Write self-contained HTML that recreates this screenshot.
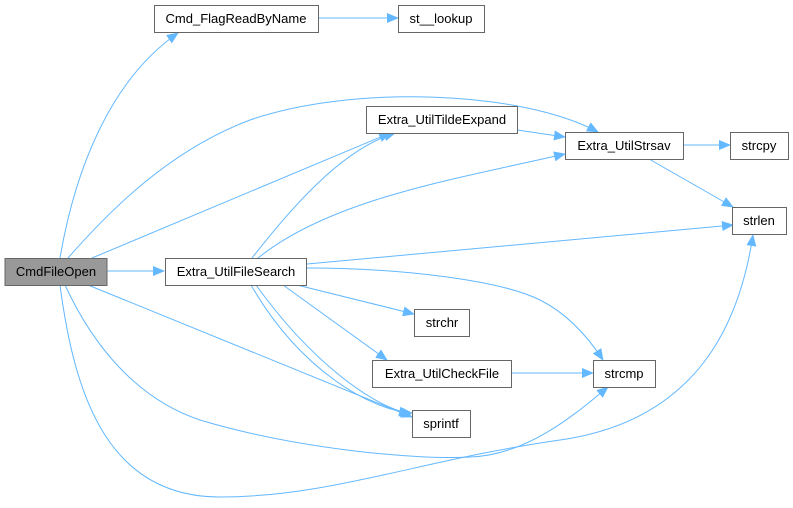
<!DOCTYPE html>
<html><head><meta charset="utf-8"><style>
body{margin:0;background:#fff;width:793px;height:508px;overflow:hidden}
svg{display:block}
text{font-family:"Liberation Sans",Arial,sans-serif;font-size:13px;fill:#000}
.n{fill:#fff;stroke:#666;stroke-width:1}
.e{fill:none;stroke:#63b8ff;stroke-width:1}
</style></head><body>
<svg width="793" height="508" viewBox="0 0 793 508">
<defs><marker id="a" markerWidth="12" markerHeight="10" refX="11" refY="5" orient="auto" markerUnits="userSpaceOnUse"><path d="M0,0 L12,5 L0,10 z" fill="#63b8ff"/></marker></defs>
<g class="e" marker-end="url(#a)">
<path d="M60,258 C75,170 110,80 178,33"/>
<path d="M68,258 C110,210 170,150 250,120 C350,85 520,90 598,132"/>
<path d="M92,258 L390,133"/>
<path d="M107,271 L164,271"/>
<path d="M88,285 L412,417"/>
<path d="M65,285 C95,350 140,400 200,420 C300,450 420,460 470,457 C530,455 580,410 608,387"/>
<path d="M60,285 C75,400 110,497 220,497 C330,497 420,460 560,440 C700,420 740,320 753,235"/>
<path d="M318,18 L398,18"/>
<path d="M517,130 L565,137"/>
<path d="M683,145 L730,145"/>
<path d="M649,159 L733,207"/>
<path d="M252,258 C290,210 340,150 395,133"/>
<path d="M258,258 C330,200 450,180 565,154"/>
<path d="M307,264 L733,225"/>
<path d="M307,268 C400,268 500,280 540,300 C570,315 590,340 603,360"/>
<path d="M297,285 L414,314"/>
<path d="M283,285 L387,360"/>
<path d="M251,285 C300,370 370,410 412,413"/>
<path d="M256,285 C310,360 370,405 410,414"/>
<path d="M511,373 L593,373"/>
</g>
<rect x="5" y="258.5" width="102" height="27" fill="#999" stroke="#666"/>
<text x="56" y="276" text-anchor="middle">CmdFileOpen</text>
<rect class="n" x="154.5" y="5.5" width="164" height="27"/><text x="236" y="23" text-anchor="middle">Cmd_FlagReadByName</text>
<rect class="n" x="398.5" y="5.5" width="86" height="27"/><text x="441" y="23" text-anchor="middle">st__lookup</text>
<rect class="n" x="366.5" y="106.5" width="151" height="27"/><text x="442" y="124" text-anchor="middle">Extra_UtilTildeExpand</text>
<rect class="n" x="565.5" y="132.5" width="118" height="27"/><text x="624" y="150" text-anchor="middle">Extra_UtilStrsav</text>
<rect class="n" x="730.5" y="132.5" width="58" height="27"/><text x="759" y="150" text-anchor="middle">strcpy</text>
<rect class="n" x="732.5" y="207.5" width="54" height="27"/><text x="759" y="225" text-anchor="middle">strlen</text>
<rect class="n" x="165.5" y="258.5" width="141" height="27"/><text x="236" y="276" text-anchor="middle">Extra_UtilFileSearch</text>
<rect class="n" x="414.5" y="309.5" width="55" height="27"/><text x="442" y="327" text-anchor="middle">strchr</text>
<rect class="n" x="372.5" y="360.5" width="139" height="27"/><text x="442" y="378" text-anchor="middle">Extra_UtilCheckFile</text>
<rect class="n" x="593.5" y="360.5" width="62" height="27"/><text x="624" y="378" text-anchor="middle">strcmp</text>
<rect class="n" x="412.5" y="410.5" width="58" height="27"/><text x="441" y="428" text-anchor="middle">sprintf</text>
</svg>
</body></html>
